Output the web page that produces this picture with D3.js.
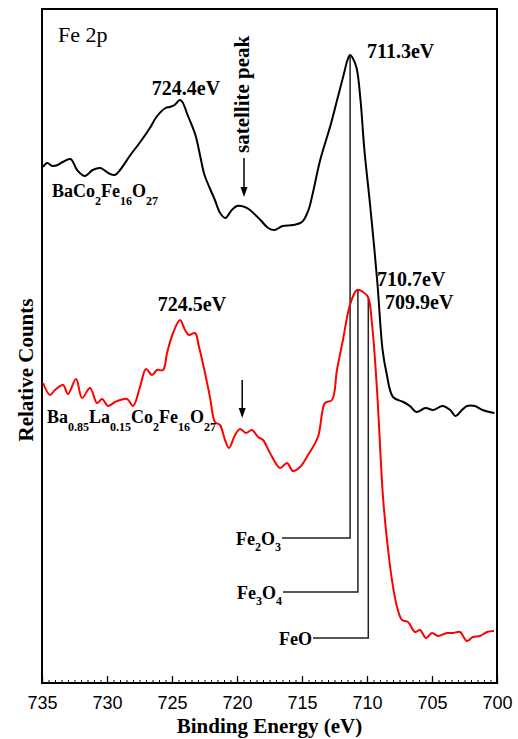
<!DOCTYPE html>
<html>
<head>
<meta charset="utf-8">
<script src="https://cdn.jsdelivr.net/npm/d3@7"></script>
<style>
body { margin: 0; background: #fff; }
svg { display: block; }
.tick text { font-family: "Liberation Sans", Arial, sans-serif; font-size: 18px; fill: #000; }
.lbl { font-family: "Liberation Serif", "Times New Roman", serif; font-weight: bold; fill: #000; }
</style>
</head>
<body>
<div id="content"></div>
<script>
// BaCo2Fe16O27 spectrum (black), energy in eV, counts in arbitrary units
const blackEnergy = [734.92, 734.6, 734.2, 733.8, 733.4, 732.8, 732.3, 731.7, 731.1, 730.5,
    729.9, 729.4, 729.0, 728.2, 727.5, 726.7, 726.2, 725.5, 725.2, 724.8,
    724.4, 724.2, 723.8, 723.2, 722.8, 722.5, 722.1, 721.7, 721.3, 720.9,
    720.4, 720.0, 719.4, 719.0, 718.2, 717.6, 717.1, 716.5, 715.7, 715.0,
    714.5, 714.2, 713.6, 712.8, 712.3, 711.8, 711.5, 711.3, 711.1, 710.8,
    710.5, 710.2, 709.8, 709.5, 709.2, 708.8, 708.5, 708.0, 707.2, 706.7,
    706.2, 705.5, 704.9, 704.2, 703.6, 703.2, 702.7, 702.3, 701.7, 701.1, 700.2];
const blackCounts = [516, 520, 517, 518, 521, 524, 513, 507, 513, 515,
    510, 508, 513, 528, 540, 555, 566, 575, 576, 578,
    583, 581, 568, 548, 525, 508, 495, 483, 470, 465,
    473, 477, 476, 473, 463, 455, 453, 457, 458, 461,
    473, 488, 523, 558, 583, 608, 623, 628, 625, 615,
    583, 533, 483, 443, 400, 333, 310, 286, 281, 277,
    271, 275, 273, 277, 273, 267, 273, 277, 277, 273, 270];

// Ba0.85La0.15Co2Fe16O27 spectrum (red)
const redEnergy = [734.92, 734.38, 734.0, 733.38, 733.0, 732.38, 731.92, 731.31, 730.77, 730.38,
    729.92, 729.38, 728.46, 728.0, 727.46, 727.0, 726.54, 726.15, 725.69, 725.38,
    724.92, 724.38, 724.0, 723.69, 723.23, 722.92, 722.46, 722.08, 721.69, 721.31,
    720.92, 720.62, 720.15, 719.77, 719.31, 718.85, 718.38, 718.0, 717.46, 716.69,
    716.15, 715.69, 715.15, 714.54, 713.77, 713.23, 712.69, 712.31, 711.85, 711.31,
    710.77, 710.31, 709.92, 709.62, 709.23, 708.77, 708.46, 708.08, 707.69, 707.31,
    706.85, 706.31, 705.92, 705.46, 705.0, 704.54, 703.85, 703.38, 702.85, 702.31,
    701.85, 701.31, 700.77, 700.23];
const redCounts = [300, 288, 293, 298, 289, 304, 285, 295, 280, 284,
    277, 281, 284, 277, 296, 314, 308, 313, 313, 330,
    350, 363, 353, 348, 350, 336, 310, 286, 261, 258,
    243, 235, 248, 254, 250, 253, 246, 243, 230, 215,
    220, 212, 216, 228, 246, 280, 283, 313, 343, 378,
    393, 391, 386, 360, 293, 186, 143, 103, 76, 63,
    61, 51, 53, 45, 50, 47, 50, 50, 51, 42,
    46, 47, 51, 52];

const xTicks = [735, 730, 725, 720, 715, 710, 705, 700];
const refNames = [["Fe", "2", "O", "3"], ["Fe", "3", "O", "4"], ["FeO"]];
const refEnergy = [711.3, 710.7, 709.9];
const peakText = ["724.4eV", "711.3eV", "724.5eV", "710.7eV", "709.9eV"];

var W = 518, H = 739;
var mLeft = 42, mRight = 497, mTop = 9, mBottom = 683;

var svg = d3.select('#content')
.append('svg')
.attr('width', W)
.attr('height', H);

var x = d3.scaleLinear().domain([735, 700]).range([mLeft, mRight]);
var y = d3.scaleLinear().domain([0, 674]).range([mBottom, mTop]);

// minor ticks every 0.5 eV
svg.append('g')
.attr('transform', 'translate(0,' + mBottom + ')')
.call(d3.axisBottom(x).tickValues(d3.range(700, 735.01, 0.5)).tickSize(-3).tickSizeOuter(0).tickFormat(''))
.call(g => g.select('.domain').remove())
.selectAll('line').attr('stroke', '#000').attr('stroke-width', 1);

svg.append('g')
.attr('transform', 'translate(0,' + mBottom + ')')
.call(d3.axisBottom(x).tickValues(xTicks).tickSize(-7).tickSizeOuter(0).tickPadding(13).tickFormat(d3.format('d')))
.call(g => g.select('.domain').remove())
.selectAll('line').attr('stroke', '#000').attr('stroke-width', 1.3);

// frame
svg.append('rect')
.attr('x', mLeft).attr('y', mTop)
.attr('width', mRight - mLeft).attr('height', mBottom - mTop)
.attr('fill', 'none').attr('stroke', '#000').attr('stroke-width', 2);

var line = d3.line()
.x(d => x(d[0]))
.y(d => y(d[1]))
.curve(d3.curveCatmullRom.alpha(0.5));

// reference lines for the iron oxides
var refTop = [628, 393, 386];
var refLeg = [145, 91, 45];
var refEnd = [716.54, 716.46, 714.15];
refEnergy.forEach(function (e, i) {
    svg.append('path')
    .attr('d', d3.line()([[x(e), y(refTop[i])], [x(e), y(refLeg[i])], [x(refEnd[i]), y(refLeg[i])]]))
    .attr('fill', 'none')
    .attr('stroke', '#222')
    .attr('stroke-width', 1.5);
});

svg.append('path')
.datum(d3.zip(blackEnergy, blackCounts))
.attr('d', line)
.attr('fill', 'none')
.attr('stroke', '#000')
.attr('stroke-width', 2);

svg.append('path')
.datum(d3.zip(redEnergy, redCounts))
.attr('d', line)
.attr('fill', 'none')
.attr('stroke', '#ff0000')
.attr('stroke-width', 2);

function formula(parts, px, py, size, subSize, subDy, anchor) {
    var t = svg.append('text')
    .attr('class', 'lbl')
    .attr('x', px).attr('y', py)
    .attr('font-size', size)
    .attr('text-anchor', anchor || 'start');
    parts.forEach(function (p, i) {
        var sub = i % 2 === 1;
        t.append('tspan')
        .attr('font-size', sub ? subSize : size)
        .attr('dy', sub ? subDy : (i > 0 ? -subDy : 0))
        .text(p);
    });
    return t;
}

refNames.forEach(function (n, i) {
    formula(n, x(refEnd[i]) - 1, y(refLeg[i]) + 7, 18, 12, 6, 'end');
});

formula(['BaCo', '2', 'Fe', '16', 'O', '27'], 52, 197, 18, 12, 8);
formula(['Ba', '0.85', 'La', '0.15', 'Co', '2', 'Fe', '16', 'O', '27'], 47, 423, 18, 12, 8);

// peak labels
var peakPos = [[186, 95, 'middle'], [367, 58, 'start'], [192, 311, 'middle'], [377, 286, 'start'], [385, 309, 'start']];
peakText.forEach(function (s, i) {
    svg.append('text')
    .attr('class', 'lbl')
    .attr('x', peakPos[i][0]).attr('y', peakPos[i][1])
    .attr('font-size', 20)
    .attr('text-anchor', peakPos[i][2])
    .text(s);
});

svg.append('text')
.attr('x', 58).attr('y', 42)
.attr('font-family', '"Liberation Serif", serif')
.attr('font-size', 22)
.text('Fe 2p');

// satellite peak arrows
svg.append('text')
.attr('class', 'lbl')
.attr('font-size', 21)
.attr('transform', 'translate(249,153) rotate(-90)')
.text('satellite peak');

function arrow(e, c0, c1) {
    var ax = x(e), y0 = y(c0), y1 = y(c1);
    svg.append('line')
    .attr('x1', ax).attr('x2', ax).attr('y1', y0).attr('y2', y1 - 6)
    .attr('stroke', '#000').attr('stroke-width', 1.5);
    svg.append('path')
    .attr('d', `M${ax - 3.5},${y1 - 10} L${ax + 3.5},${y1 - 10} L${ax},${y1} Z`)
    .attr('fill', '#000');
}
arrow(719.46, 525, 486);
arrow(719.6, 303, 265);

svg.append('text')
.attr('class', 'lbl')
.attr('font-size', 21)
.attr('text-anchor', 'middle')
.attr('x', (mLeft + mRight) / 2).attr('y', 733)
.text('Binding Energy (eV)');

svg.append('text')
.attr('class', 'lbl')
.attr('font-size', 21)
.attr('text-anchor', 'middle')
.attr('transform', 'translate(33,370) rotate(-90)')
.text('Relative Counts');
</script>
</body>
</html>
